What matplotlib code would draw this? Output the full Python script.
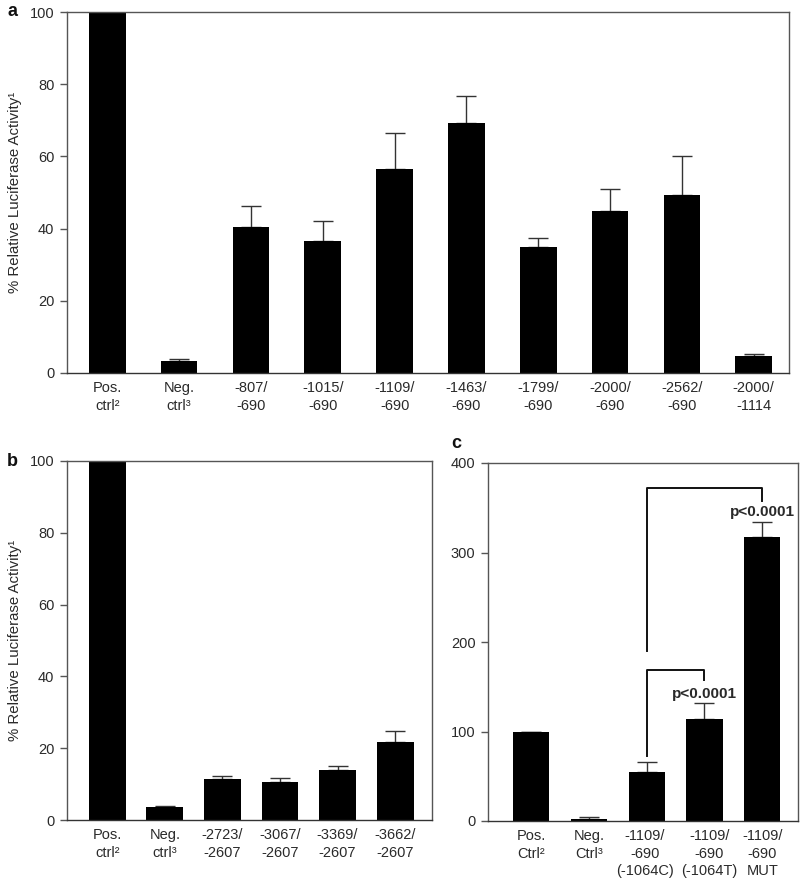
import matplotlib
matplotlib.use("Agg")
import matplotlib.pyplot as plt
import matplotlib.transforms as mtrans
import numpy as np

plt.rcParams['font.family'] = ['Liberation Sans', 'DejaVu Sans']

# ---- data ----
a_labels = ["Pos.\nctrl²", "Neg.\nctrl³", "-807/\n-690", "-1015/\n-690", "-1109/\n-690",
            "-1463/\n-690", "-1799/\n-690", "-2000/\n-690", "-2562/\n-690", "-2000/\n-1114"]
a_values = [100, 3.3, 40.5, 36.5, 56.4, 69.2, 35.0, 45.0, 49.3, 4.7]
a_err = [0, 0.6, 5.8, 5.6, 10.0, 7.4, 2.5, 5.9, 10.7, 0.5]

b_labels = ["Pos.\nctrl²", "Neg.\nctrl³", "-2723/\n-2607", "-3067/\n-2607", "-3369/\n-2607", "-3662/\n-2607"]
b_values = [100, 3.5, 11.4, 10.7, 13.9, 21.8]
b_err = [0, 0.5, 0.9, 1.0, 1.2, 3.0]

c_labels = ["Pos.\nCtrl²", "Neg.\nCtrl³", "-1109/\n-690\n(-1064C)", "-1109/\n-690\n(-1064T)", "-1109/\n-690\nMUT"]
c_values = [100, 2.6, 55.2, 114.5, 317]
c_err = [0, 2.0, 10.4, 17.1, 17.5]

# significance brackets: (left bar, right bar, left start y, top y, right end y, text y)
c_brackets = [(2, 3, 73, 169, 158, 142), (2, 4, 190, 372, 357, 345)]
c_ptext = "p<0.0001"

ylabel_text = "% Relative Luciferase Activity¹"

TXT = '#2a2a2a'
SP = '#555555'
FS = 10.5

fig = plt.figure(figsize=(8, 8.85), dpi=100)


def style(ax, ylim, yticks, xlim):
    ax.set_ylim(*ylim)
    ax.set_xlim(*xlim)
    ax.set_yticks(yticks)
    for s in ax.spines.values():
        s.set_color(SP)
        s.set_linewidth(1.0)
    ax.spines['bottom'].set_color('#333333')
    ax.tick_params(axis='y', direction='out', length=5, width=1, color=SP,
                   labelsize=FS, labelcolor=TXT, pad=4)
    ax.tick_params(axis='x', length=0, labelsize=FS, labelcolor=TXT, pad=6)


def draw(ax, labels, values, err, width):
    x = np.arange(len(values))
    ax.bar(x, values, width=width, color='black', zorder=2)
    ax.errorbar(x, values, yerr=[np.zeros(len(err)), err], fmt='none',
                ecolor='#333333', elinewidth=1, capsize=7, capthick=1, zorder=1)
    ax.set_xticks(x)
    ax.set_xticklabels(labels, linespacing=1.3)


# panel a
axa = fig.add_axes([67/800, 1-373/885, (789-67)/800, (373-12)/885])
draw(axa, a_labels, a_values, a_err, 0.51)
style(axa, (0, 100), [0, 20, 40, 60, 80, 100], (-0.56, 9.49))

# panel b
axb = fig.add_axes([67/800, 1-820/885, (432-67)/800, (820-461)/885])
draw(axb, b_labels, b_values, b_err, 0.64)
style(axb, (0, 100), [0, 20, 40, 60, 80, 100], (-0.70, 5.64))

# panel c
axc = fig.add_axes([488/800, 1-821/885, (798-488)/800, (821-463)/885])
draw(axc, c_labels, c_values, c_err, 0.63)
style(axc, (0, 400), [0, 100, 200, 300, 400], (-0.75, 4.62))
# nudge the crowded labels apart a little, as in the original
lbls = axc.get_xticklabels()
lbls[2].set_transform(lbls[2].get_transform() + mtrans.ScaledTranslation(-2/100, 0, fig.dpi_scale_trans))
lbls[3].set_transform(lbls[3].get_transform() + mtrans.ScaledTranslation(5/100, 0, fig.dpi_scale_trans))
for (l, r, y0, yt, y1, ty) in c_brackets:
    axc.plot([l, l, r, r], [y0, yt, yt, y1], color='#111111', lw=1.4, zorder=3)
    axc.text(r, ty, c_ptext, ha='center', va='center', fontsize=11,
             fontweight='bold', color=TXT)

# y labels
for yc in [(12+373)/2, (461+820)/2]:
    fig.text(15/800, 1-yc/885, ylabel_text, rotation=90,
             ha='center', va='center', fontsize=10.8, color=TXT)

# panel letters
fig.text(12/800, 1-12/885, "a", fontsize=13, fontweight='bold', ha='center', va='center', color='#111111')
fig.text(12/800, 1-461/885, "b", fontsize=13, fontweight='bold', ha='center', va='center', color='#111111')
fig.text(456/800, 1-443/885, "c", fontsize=13, fontweight='bold', ha='center', va='center', color='#111111')

fig.savefig("out.png", dpi=100, facecolor='white')
